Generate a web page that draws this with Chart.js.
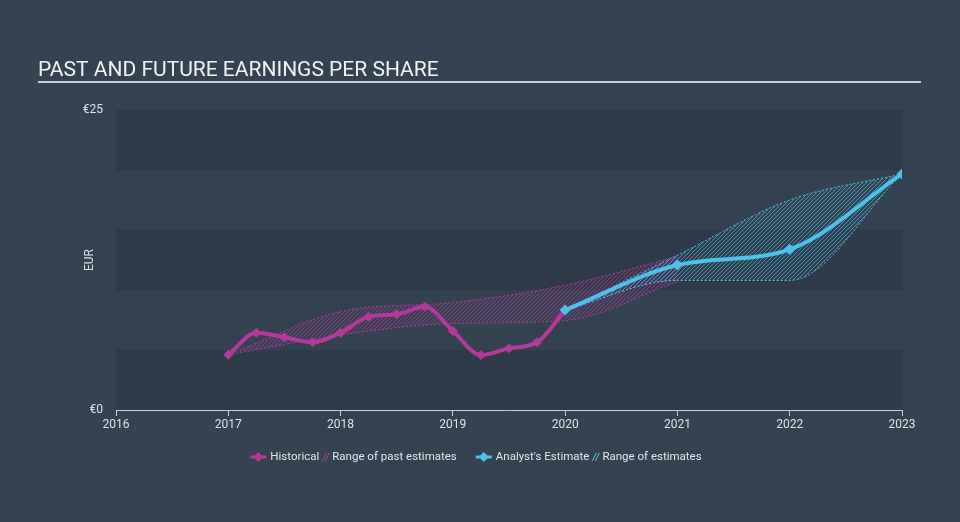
<!DOCTYPE html>
<html><head><meta charset="utf-8">
<script src="https://cdn.jsdelivr.net/npm/chart.js@4/dist/chart.umd.min.js"></script>
<style>html,body{margin:0;padding:0;background:#354251;overflow:hidden}</style>
</head><body><canvas id="c" width="960" height="522" style="width:960px;height:522px;display:block"></canvas>
<script>
// ---- data ----
const historicalX = [2017, 2017.25, 2017.5, 2017.75, 2018, 2018.25, 2018.5, 2018.75, 2019, 2019.25, 2019.5, 2019.75, 2020];
const historicalEPS = [4.6, 6.44, 6.06, 5.64, 6.44, 7.78, 7.98, 8.61, 6.58, 4.58, 5.14, 5.64, 8.33];
const pastRangeX = [2017, 2018, 2019, 2020, 2021];
const pastRangeHigh = [4.6, 8.2, 8.95, 10.4, 12.8];
const pastRangeLow = [4.6, 6.25, 7.2, 7.45, 10.7];
const estimateX = [2020, 2021, 2022, 2023];
const estimateEPS = [8.33, 12.08, 13.39, 19.67];
const estimateHigh = [8.33, 12.9, 17.5, 19.67];
const estimateLow = [8.33, 10.8, 10.8, 19.67];
const yearTicks = [2016, 2017, 2018, 2019, 2020, 2021, 2022, 2023];
const valueTicks = [0, 25];
const titleText = 'PAST AND FUTURE EARNINGS PER SHARE';
const legendLabels = ['Historical', 'Range of past estimates', "Analyst's Estimate", 'Range of estimates'];

const PINK = '#b3399a';
const BLUE = '#4ec1e8';
const FONT = 'Roboto, "Liberation Sans", sans-serif';

const pts = (xs, ys) => xs.map((x, i) => ({x, y: ys[i]}));

// hatch fill between dataset pairs [upperIndex, lowerIndex, colour]
const hatchPairs = [[0, 1, 'rgba(179,57,154,0.75)'], [2, 3, 'rgba(78,193,232,0.7)']];

function clipUnder(ctx, chart, idx, edgeY) {
  const meta = chart.getDatasetMeta(idx);
  const line = meta.dataset;
  line.updateControlPoints(chart.chartArea, 'x');
  const p = meta.data;
  ctx.beginPath();
  line.path(ctx);
  ctx.lineTo(p[p.length - 1].x, edgeY);
  ctx.lineTo(p[0].x, edgeY);
  ctx.closePath();
  ctx.clip();
  return [p[0].x, p[p.length - 1].x];
}

const bgPlugin = {
  id: 'bg',
  beforeDraw(chart) {
    const {ctx, chartArea: a, scales: {y}} = chart;
    ctx.save();
    ctx.fillStyle = '#354251';
    ctx.fillRect(0, 0, chart.width, chart.height);
    for (let v = 0; v < 25; v += 5) {
      const top = y.getPixelForValue(v + 5), bot = y.getPixelForValue(v);
      ctx.fillStyle = (v / 5) % 2 === 0 ? '#2f3b4a' : '#344150';
      ctx.fillRect(a.left, top, a.right - a.left, bot - top);
    }
    // title
    ctx.fillStyle = '#f2f2f2';
    ctx.font = '21px ' + FONT;
    ctx.textBaseline = 'alphabetic';
    ctx.textAlign = 'left';
    ctx.fillText(titleText, 38, 76);
    ctx.fillStyle = '#c9ccd0';
    ctx.fillRect(38, 81, 883, 2);
    // axis title
    ctx.save();
    ctx.translate(90, (a.top + a.bottom) / 2);
    ctx.rotate(-Math.PI / 2);
    ctx.textAlign = 'center';
    ctx.textBaseline = 'middle';
    ctx.font = '12px ' + FONT;
    ctx.fillStyle = '#dfe1e4';
    ctx.fillText('EUR', 0, 0);
    ctx.restore();
    ctx.restore();
  },
  beforeDatasetsDraw(chart) {
    const {ctx, chartArea: a} = chart;
    hatchPairs.forEach(([up, lo, col]) => {
      ctx.save();
      const [x0, x1] = clipUnder(ctx, chart, up, a.bottom + 50);
      clipUnder(ctx, chart, lo, a.top - 50);
      ctx.strokeStyle = col;
      ctx.lineWidth = 1;
      ctx.beginPath();
      const h = a.bottom - a.top + 100;
      for (let x = x0 - h; x < x1 + 4; x += 4) {
        ctx.moveTo(x, a.bottom + 50);
        ctx.lineTo(x + h, a.top - 50);
      }
      ctx.stroke();
      ctx.restore();
    });
  },
  afterDraw(chart) {
    const ctx = chart.ctx;
    ctx.save();
    ctx.font = '11.5px ' + FONT;
    ctx.textBaseline = 'middle';
    ctx.textAlign = 'left';
    const yy = 457;
    const w = legendLabels.map(t => ctx.measureText(t).width);
    const iconW = 16, gapIcon = 4, hatchW = 7, gapBig = 19;
    const total = iconW + gapIcon + w[0] + 3 + hatchW + 3 + w[1] + gapBig + iconW + gapIcon + w[2] + 3 + hatchW + 3 + w[3];
    let x = 476 - total / 2;
    const drawMarker = (col) => {
      ctx.strokeStyle = col; ctx.lineWidth = 3;
      ctx.beginPath(); ctx.moveTo(x, yy); ctx.lineTo(x + iconW, yy); ctx.stroke();
      ctx.fillStyle = col;
      ctx.beginPath();
      const cx = x + iconW / 2;
      ctx.moveTo(cx, yy - 5); ctx.lineTo(cx + 5, yy); ctx.lineTo(cx, yy + 5); ctx.lineTo(cx - 5, yy);
      ctx.closePath(); ctx.fill();
      x += iconW + gapIcon;
    };
    const drawHatch = (col) => {
      ctx.strokeStyle = col; ctx.lineWidth = 1;
      ctx.beginPath();
      for (let k = 0; k < 2; k++) {
        ctx.moveTo(x + k * 3, yy + 4); ctx.lineTo(x + k * 3 + 4, yy - 4);
      }
      ctx.stroke();
      x += hatchW + 3;
    };
    const txt = (i) => { ctx.fillStyle = '#e3e5e8'; ctx.fillText(legendLabels[i], x, yy); x += w[i] + 3; };
    drawMarker(PINK); txt(0); drawHatch(PINK); txt(1);
    x += gapBig - 3;
    drawMarker(BLUE); txt(2); drawHatch(BLUE); txt(3);
    ctx.restore();
  }
};

new Chart(document.getElementById('c'), {
  type: 'line',
  data: {
    datasets: [
      { data: pts(pastRangeX, pastRangeHigh), borderColor: PINK, borderWidth: 1, borderDash: [2, 2], pointRadius: 0,
        fill: false, cubicInterpolationMode: 'monotone', order: 3 },
      { data: pts(pastRangeX, pastRangeLow), borderColor: PINK, borderWidth: 1, borderDash: [2, 2], pointRadius: 0,
        fill: false, cubicInterpolationMode: 'monotone', order: 3 },
      { data: pts(estimateX, estimateHigh), borderColor: BLUE, borderWidth: 1, borderDash: [2, 2], pointRadius: 0,
        fill: false, cubicInterpolationMode: 'monotone', order: 2 },
      { data: pts(estimateX, estimateLow), borderColor: BLUE, borderWidth: 1, borderDash: [2, 2], pointRadius: 0,
        fill: false, cubicInterpolationMode: 'monotone', order: 2 },
      { data: pts(historicalX, historicalEPS), borderColor: PINK, backgroundColor: PINK, borderWidth: 4,
        pointStyle: 'rectRot', pointRadius: 5, pointBorderWidth: 0, fill: false, cubicInterpolationMode: 'monotone', order: 1 },
      { data: pts(estimateX, estimateEPS), borderColor: BLUE, backgroundColor: BLUE, borderWidth: 4,
        pointStyle: 'rectRot', pointRadius: 5.5, pointBorderWidth: 0, fill: false, cubicInterpolationMode: 'monotone', order: 0 }
    ]
  },
  options: {
    responsive: false,
    animation: false,
    devicePixelRatio: 1,
    layout: { padding: { left: 0, top: 110, right: 58, bottom: 72 } },
    plugins: { legend: { display: false }, tooltip: { enabled: false } },
    scales: {
      x: {
        type: 'linear', min: 2016, max: 2023,
        afterBuildTicks: s => { s.ticks = yearTicks.map(v => ({value: v})); },
        afterFit: s => { s.height = 40; },
        ticks: { color: '#dfe1e4', font: { size: 12, family: FONT }, padding: 2, maxRotation: 0, callback: v => String(v) },
        grid: { display: true, drawOnChartArea: false, drawTicks: true, tickLength: 6, color: '#c9ccd0' },
        border: { display: true, color: '#c9ccd0', width: 1 }
      },
      y: {
        min: 0, max: 25,
        afterBuildTicks: s => { s.ticks = valueTicks.map(v => ({value: v})); },
        afterFit: s => { s.width = 116; },
        ticks: { color: '#dfe1e4', font: { size: 12, family: FONT }, padding: 5, callback: v => '€' + v },
        grid: { display: false },
        border: { display: false }
      }
    }
  },
  plugins: [bgPlugin]
});
</script>
</body></html>
